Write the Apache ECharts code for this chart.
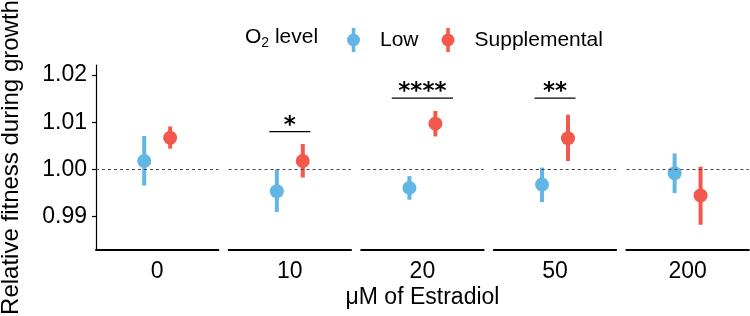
<!DOCTYPE html>
<html>
<head>
<meta charset="utf-8">
<script src="https://cdn.jsdelivr.net/npm/echarts@6/dist/echarts.min.js"></script>
<style>
  html, body { margin: 0; padding: 0; background: #fff; }
  #chart { width: 750px; height: 316px; }
</style>
</head>
<body>
<div id="chart"></div>
<script>
// estradiol doses, one facet each
const doses = ['0', '10', '20', '50', '200'];
// Low O2: mean and interval ends
const lowMean = [1.0018, 0.9954, 0.9961, 0.9968, 0.9992];
const lowLower = [0.9966, 0.9910, 0.9936, 0.9931, 0.9950];
const lowUpper = [1.0071, 1.0000, 0.9986, 1.0004, 1.0034];
// Supplemental O2
const supMean = [1.0067, 1.0018, 1.0097, 1.0066, 0.9945];
const supLower = [1.0044, 0.9983, 1.0070, 1.0018, 0.9883];
const supUpper = [1.0091, 1.0054, 1.0124, 1.0116, 1.0006];
// significance brackets
const sigLabels = ['', '*', '****', '**', ''];
const sigLevel = [null, 1.0080, 1.0151, 1.0151, null];
const sigHalfWidth = [0, 0.335, 0.5, 0.335, 0];
const yTicks = [0.99, 1.00, 1.01, 1.02];

const FONT = '"Liberation Sans", Arial, Helvetica, sans-serif';
const BLUE = '#62B6E6';
const RED = '#F2584C';
const dodge = 0.212;

const chart = echarts.init(document.getElementById('chart'));

// point + vertical interval
const renderRange = (params, api) => {
  const x = api.value(0);
  const top = api.coord([x, api.value(3)]);
  const bot = api.coord([x, api.value(2)]);
  const mid = api.coord([x, api.value(1)]);
  const color = api.visual('color');
  return {
    type: 'group',
    children: [
      { type: 'line', shape: { x1: top[0], y1: top[1], x2: bot[0], y2: bot[1] }, style: { stroke: color, lineWidth: 4 } },
      { type: 'circle', shape: { cx: mid[0], cy: mid[1], r: 7 }, style: { fill: color } },
    ],
  };
};

const grids = [];
const xAxes = [];
const yAxes = [];
const series = [];

doses.forEach((dose, i) => {
  grids.push({ left: 96 + i * 132.6, top: 65, width: 122.4, height: 185 });
  xAxes.push({
    type: 'value',
    gridIndex: i,
    min: -1,
    max: 1,
    axisLine: { show: true, onZero: false, lineStyle: { color: '#000', width: 2 } },
    axisTick: { show: false },
    axisLabel: { show: false },
    splitLine: { show: false },
    name: dose,
    nameLocation: 'middle',
    nameGap: 10,
    nameTextStyle: { fontSize: 23, color: '#000', fontFamily: FONT },
  });
  yAxes.push({
    type: 'value',
    gridIndex: i,
    min: 0.98296,
    max: 1.02211,
    show: i === 0,
    axisLine: { show: true, onZero: false, lineStyle: { color: '#000', width: 1.2 } },
    axisTick: { show: true, length: 4, customValues: yTicks, lineStyle: { color: '#000', width: 1.2 } },
    axisLabel: {
      customValues: yTicks,
      formatter: (v) => v.toFixed(2),
      fontSize: 23,
      color: '#000',
      fontFamily: FONT,
      margin: 9,
    },
    splitLine: { show: false },
  });

  series.push({
    name: 'Low',
    type: 'custom',
    xAxisIndex: i,
    yAxisIndex: i,
    color: BLUE,
    renderItem: renderRange,
    data: [[-dodge, lowMean[i], lowLower[i], lowUpper[i]]],
    markLine: {
      silent: true,
      symbol: 'none',
      label: { show: false },
      lineStyle: { type: [3, 3], color: '#444', width: 1 },
      data: [{ yAxis: 1 }],
      animation: false,
    },
    z: 3,
  });
  series.push({
    name: 'Supplemental',
    type: 'custom',
    xAxisIndex: i,
    yAxisIndex: i,
    color: RED,
    renderItem: renderRange,
    data: [[dodge, supMean[i], supLower[i], supUpper[i]]],
    z: 3,
  });

  if (sigLabels[i]) {
    const label = sigLabels[i];
    series.push({
      name: 'sig' + i,
      type: 'custom',
      xAxisIndex: i,
      yAxisIndex: i,
      silent: true,
      renderItem: (params, api) => {
        const left = api.coord([-api.value(0), api.value(1)]);
        const right = api.coord([api.value(0), api.value(1)]);
        return {
          type: 'group',
          children: [
            { type: 'line', shape: { x1: left[0], y1: left[1], x2: right[0], y2: right[1] }, style: { stroke: '#000', lineWidth: 1.2 } },
            {
              type: 'text',
              x: (left[0] + right[0]) / 2,
              y: left[1] - 6,
              style: {
                text: label,
                fill: '#000',
                fontSize: 23,
                fontWeight: 'bold',
                fontFamily: '"DejaVu Sans", sans-serif',
                align: 'center',
                verticalAlign: 'middle',
              },
            },
          ],
        };
      },
      data: [[sigHalfWidth[i], sigLevel[i]]],
    });
  }
});

chart.setOption({
  backgroundColor: '#fff',
  animation: false,
  grid: grids,
  xAxis: xAxes,
  yAxis: yAxes,
  legend: {
    data: ['Low', 'Supplemental'],
    left: 347,
    top: 28,
    padding: 0,
    itemWidth: 43,
    itemHeight: 24,
    itemGap: 23,
    selectedMode: false,
    icon: 'path://M4.75,0h3.5v24h-3.5z M13,12a6.5,6.5 0 1,1 -13,0a6.5,6.5 0 1,1 13,0z',
    textStyle: { fontSize: 21, color: '#000', fontFamily: FONT },
  },
  graphic: [
    {
      type: 'text',
      left: 245,
      top: 27,
      style: {
        text: '{a|O}{s|2}{a| level}',
        rich: {
          a: { fontSize: 21, lineHeight: 26, fontFamily: FONT, fill: '#000' },
          s: { fontSize: 14, lineHeight: 14, verticalAlign: 'bottom', fontFamily: FONT, fill: '#000' },
        },
      },
    },
    {
      type: 'text',
      x: 11,
      y: 157.5,
      rotation: Math.PI / 2,
      style: {
        text: 'Relative fitness during growth',
        fontSize: 24,
        fontFamily: FONT,
        fill: '#000',
        align: 'center',
        verticalAlign: 'middle',
      },
    },
    {
      type: 'text',
      x: 422.5,
      y: 297.5,
      style: {
        text: 'μM of Estradiol',
        fontSize: 23,
        fontFamily: FONT,
        fill: '#000',
        align: 'center',
        verticalAlign: 'middle',
      },
    },
  ],
  series: series,
});
</script>
</body>
</html>
